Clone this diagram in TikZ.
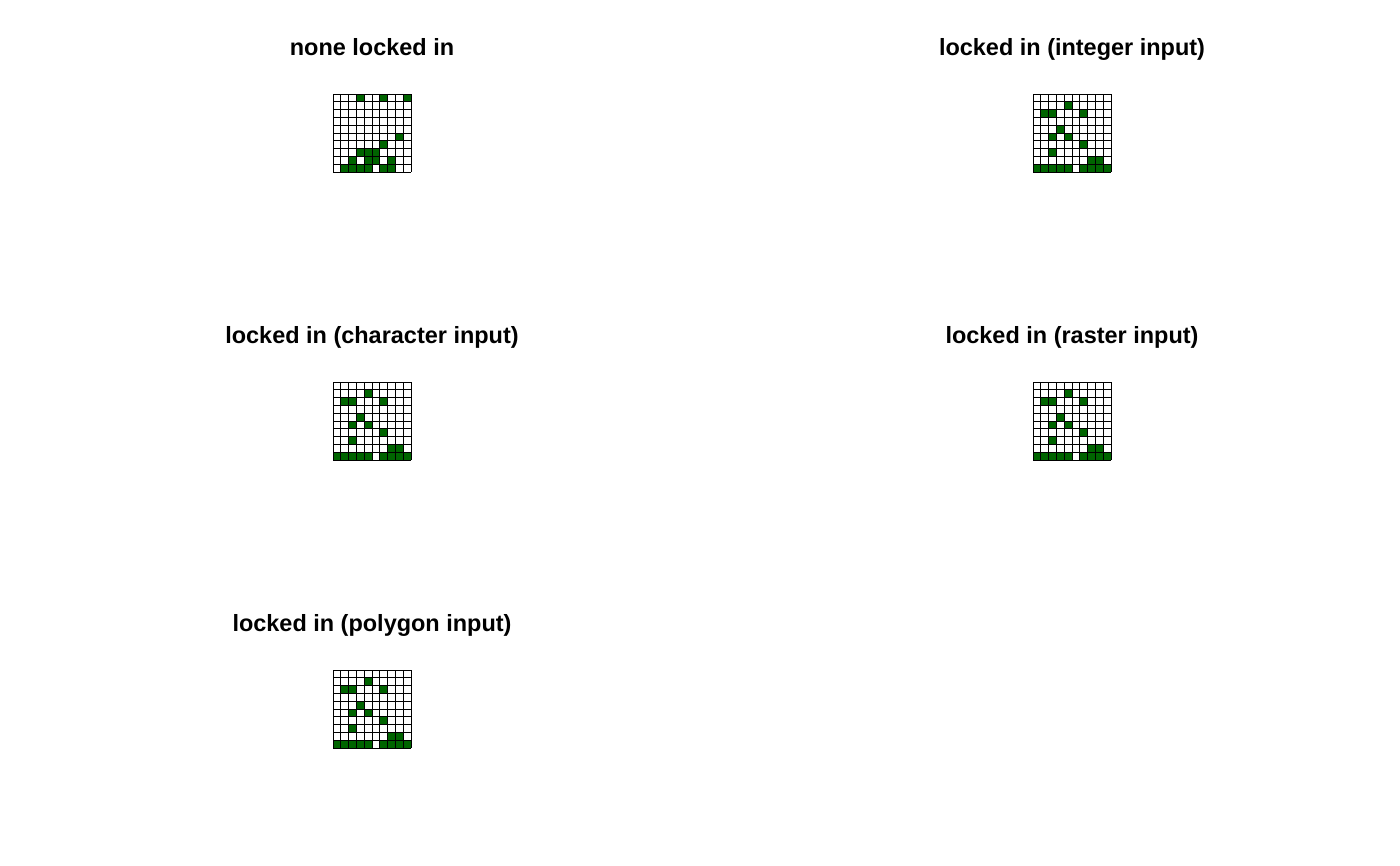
\documentclass[tikz,border=0pt]{standalone}
\usepackage{fontspec}
\setmainfont{Liberation Sans}
\usepackage{tikz}
\usetikzlibrary{calc,positioning}

\definecolor{landgreen}{HTML}{006400}

% filled cells as row/column, counted from the top left
\newcommand{\nonecells}{0/3,0/6,0/9,5/8,6/6,7/3,7/4,7/5,8/2,8/4,8/5,8/7,9/1,9/2,9/3,9/4,9/6,9/7}
\newcommand{\lockedcells}{1/4,2/1,2/2,2/6,4/3,5/2,5/4,6/6,7/2,8/7,8/8,9/0,9/1,9/2,9/3,9/4,9/6,9/7,9/8,9/9}

\tikzset{
landscape/.pic={
  \foreach \r/\c in #1 \fill[landgreen] (\c*7.8,\r*7.8) rectangle ++(7.8,7.8);
  \foreach \i in {0,...,10} {
    \draw[gridline] (\i*7.8,0) -- (\i*7.8,78);
    \draw[gridline] (0,\i*7.8) -- (78,\i*7.8);
  }
}
}

\begin{document}
\begin{tikzpicture}[%
x=0.75pt,
y=-0.75pt,
node distance=216pt and 525pt,
on grid,
title/.style={font=\bfseries\fontsize{17.6}{21}\selectfont, text height=13pt, text depth=4pt},
gridline/.style={draw=black, line width=0.75pt}
]
\useasboundingbox (0,0) rectangle (1400,865);

\node[title] (t1) at (372,49) {none locked in};
\node[title] (t2) [right=of t1] {locked in (integer input)};
\node[title] (t3) [below=of t1] {locked in (character input)};
\node[title] (t4) [below=of t2] {locked in (raster input)};
\node[title] (t5) [below=of t3] {locked in (polygon input)};

% one landscape under every title
\pic at ($(t1)+(-39,45)$) {landscape=\nonecells};
\pic at ($(t2)+(-39,45)$) {landscape=\lockedcells};
\pic at ($(t3)+(-39,45)$) {landscape=\lockedcells};
\pic at ($(t4)+(-39,45)$) {landscape=\lockedcells};
\pic at ($(t5)+(-39,45)$) {landscape=\lockedcells};

\end{tikzpicture}
\end{document}
